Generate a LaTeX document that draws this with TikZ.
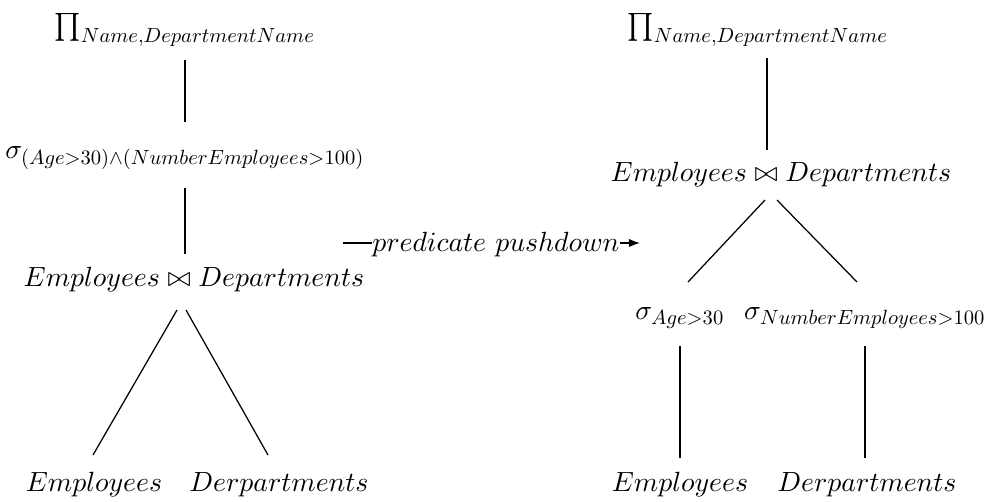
\documentclass[tikz,border=0pt]{standalone}
\usepackage{graphicx}
\usetikzlibrary{calc,arrows.meta}
% subscripts set in the 10pt design, scaled down
\newcommand{\subs}[1]{\scalebox{0.74}{$#1$}}
\begin{document}
\begin{tikzpicture}[x=0.36pt,y=-0.36pt,
  op/.style={inner sep=0pt},
  edge line/.style={draw=black,line width=0.45pt}]
\useasboundingbox (0,0) rectangle (989,501);

% --- original plan ---
\node[op] (lpi)  at (185,30)  {$\prod_{\subs{Name{,}DepartmentName}}$};
\node[op] (lsig) at (185,158) {$\sigma_{\subs{(Age{>}30){\wedge}(NumberEmployees{>}100)}}$};
\node[op] (ljoin) at (194,280) {$Employees \bowtie Departments$};
\node[op] (lemp) at (94,485)  {$Employees$};
\node[op] (ldep) at (279,485) {$Derpartments$};

\draw[edge line] ($(lpi)+(0,30)$) -- ($(lsig)+(0,-36)$);
\draw[edge line] ($(lsig)+(0,30)$) -- ($(lsig)+(0,96)$);
\draw[edge line] ($(ljoin)+(-17,30)$) -- ($(lemp)+(-1,-30)$);
\draw[edge line] ($(ljoin)+(-8,30)$) -- ($(ldep)+(-11,-30)$);

% --- rewrite arrow ---
\coordinate (arrS) at (343,243);
\coordinate (arrE) at (640,243);
\node[op] (push) at (496,245) {$predicate\ pushdown$};
\draw[edge line] (arrS) -- (arrS -| push.west);
\draw[edge line,-{Latex[length=4pt,width=3pt]}] (arrE -| push.east) -- (arrE);

% --- optimised plan ---
\node[op] (rpi)   at (758,30)  {$\prod_{\subs{Name{,}DepartmentName}}$};
\node[op] (rjoin) at (781,175) {$Employees \bowtie Departments$};
\node[op] (rsa)   at (680,318) {$\sigma_{\subs{Age{>}30}}$};
\node[op] (rsn)   at (865,318) {$\sigma_{\subs{NumberEmployees{>}100}}$};
\node[op] (remp)  at (680,485) {$Employees$};
\node[op] (rdep)  at (867,485) {$Derpartments$};

\draw[edge line] ($(rpi)+(9,28)$) -- ($(rjoin)+(-14,-25)$);
\draw[edge line] ($(rjoin)+(-16,25)$) -- ($(rsa)+(8,-36)$);
\draw[edge line] ($(rjoin)+(-4,25)$) -- ($(rsn)+(-8,-36)$);
\draw[edge line] ($(rsa)+(0,28)$) -- ($(remp)+(0,-27)$);
\draw[edge line] ($(rsn)+(0,28)$) -- ($(rdep)+(-2,-27)$);
\end{tikzpicture}
\end{document}
